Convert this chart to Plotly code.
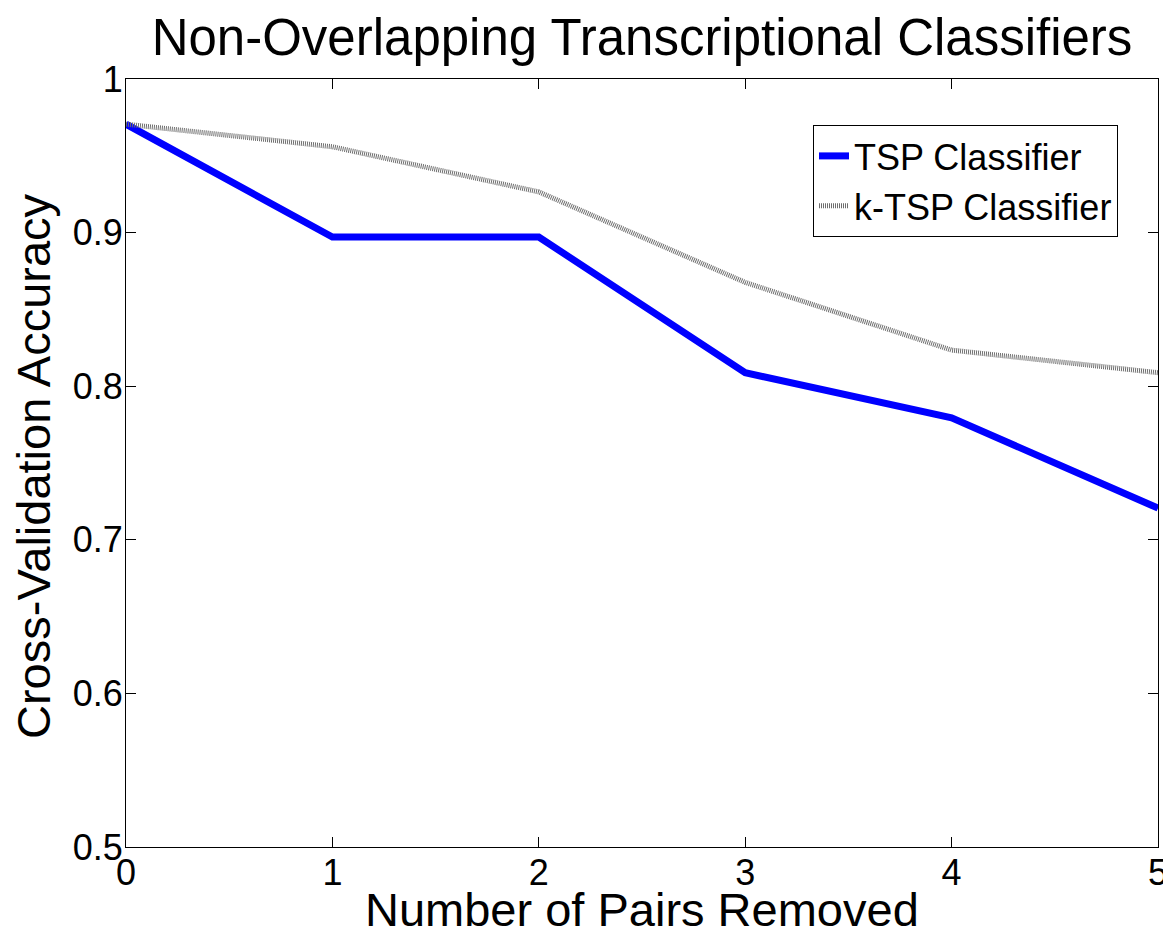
import plotly.graph_objects as go

pairs_removed = [0, 1, 2, 3, 4, 5]
tsp_accuracy = [0.9706, 0.8971, 0.8971, 0.8088, 0.7794, 0.7206]
ktsp_accuracy = [0.9706, 0.9559, 0.9265, 0.8676, 0.8235, 0.8088]
y_ticks = [0.5, 0.6, 0.7, 0.8, 0.9, 1.0]
y_tick_labels = ["0.5", "0.6", "0.7", "0.8", "0.9", "1"]
x_ticks = [0, 1, 2, 3, 4, 5]

FONT = "Liberation Sans, Arial, sans-serif"
OFF = 8  # default page margin of the html body
W, H = 1171 - OFF, 938 - OFF
L, T = 126 - OFF, 79 - OFF
R = W - (1158 - OFF)
B = H - (847 - OFF)
PW, PH = W - L - R, H - T - B


def px_x(page_x):
    return (page_x - OFF - L) / PW


def px_y(page_y):
    return (H - B - (page_y - OFF)) / PH


fig = go.Figure()
fig.add_trace(go.Scatter(x=pairs_removed, y=tsp_accuracy, mode="lines",
                         name="TSP Classifier",
                         line=dict(color="#0000FF", width=7)))
fig.add_trace(go.Scatter(x=pairs_removed, y=ktsp_accuracy, mode="lines",
                         name="k-TSP Classifier",
                         line=dict(color="#6e6e6e", width=5, dash="1px,1px")))

axis_common = dict(showline=True, linecolor="black", linewidth=1, mirror="ticks",
                   ticks="inside", ticklen=10, tickcolor="black", tickwidth=1,
                   showgrid=False, zeroline=False, automargin=False,
                   tickfont=dict(family=FONT, size=36, color="black"))

fig.update_xaxes(range=[0, 5], tickvals=x_ticks, ticktext=[str(v) for v in x_ticks],
                 ticklabelstandoff=-6, **axis_common)
fig.update_yaxes(range=[0.5, 1], tickvals=y_ticks, ticktext=y_tick_labels,
                 ticklabelstandoff=-5, **axis_common)

fig.add_annotation(text="Number of Pairs Removed", xref="paper", yref="paper",
                   x=px_x(642), y=px_y(909), xanchor="center", yanchor="middle",
                   showarrow=False, font=dict(family=FONT, size=47, color="black"))
fig.add_annotation(text="Cross-Validation Accuracy", xref="paper", yref="paper",
                   x=px_x(33), y=px_y(466), xanchor="center", yanchor="middle",
                   textangle=-90, showarrow=False,
                   font=dict(family=FONT, size=47, color="black"))

fig.update_layout(
    width=W, height=H,
    margin=dict(l=L, r=R, t=T, b=B),
    paper_bgcolor="white", plot_bgcolor="white",
    title=dict(text="Non-Overlapping Transcriptional Classifiers",
               font=dict(family=FONT, size=51, color="black"),
               x=(642 - OFF) / W, xanchor="center", xref="container",
               y=1 - (37 - OFF) / H, yanchor="middle", yref="container"),
    legend=dict(x=px_x(1118), y=px_y(125), xanchor="right", yanchor="top",
                bgcolor="white", bordercolor="black", borderwidth=1,
                font=dict(family=FONT, size=36, color="black"),
                tracegroupgap=0),
    showlegend=True,
)

fig.write_html("out.html")
